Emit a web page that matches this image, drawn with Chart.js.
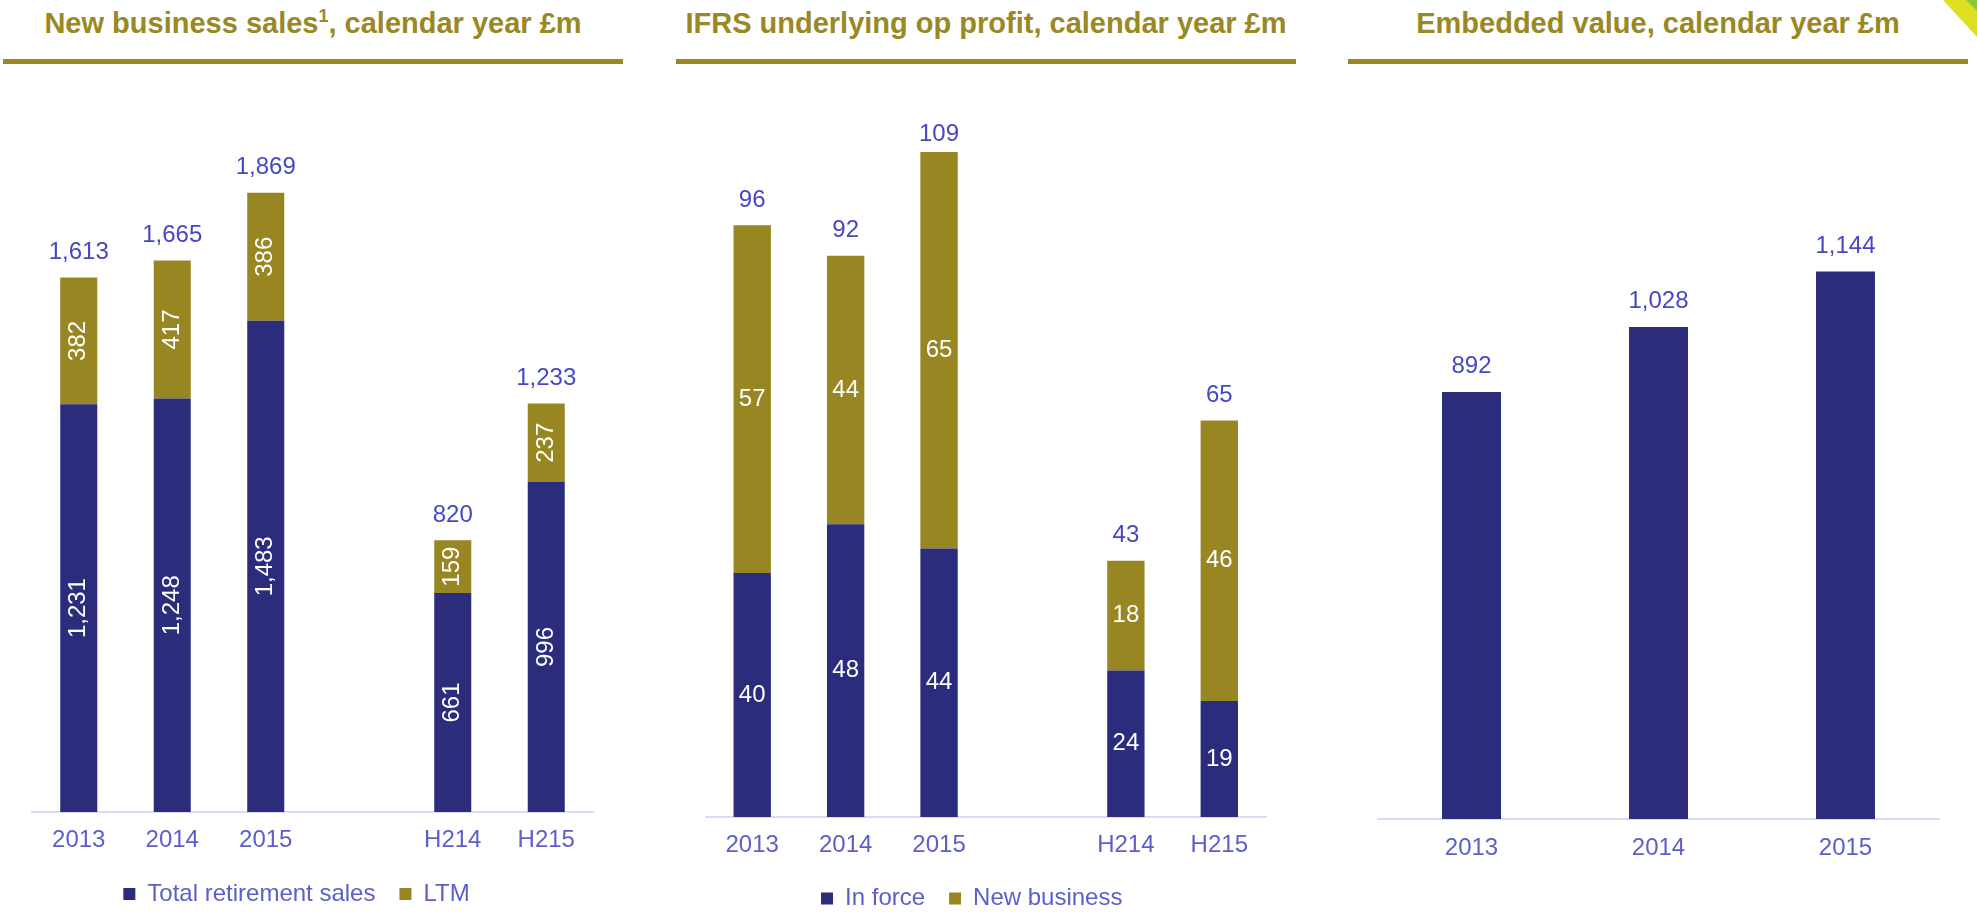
<!DOCTYPE html>
<html>
<head>
<meta charset="utf-8">
<script src="https://cdn.jsdelivr.net/npm/chart.js@4.4.1/dist/chart.umd.min.js"></script>
<style>
html,body{margin:0;padding:0;background:#fff;width:1977px;height:916px;overflow:hidden;font-family:'Liberation Sans',Arial,sans-serif;}
.title{position:absolute;top:5px;height:36px;line-height:36px;font-size:29px;font-weight:bold;color:#998823;text-align:center;white-space:nowrap;}
.title .sup{font-size:18px;position:relative;top:-11px;}
.rule{position:absolute;top:59px;height:5px;background:#998823;}
canvas{position:absolute;top:70px;}
.corner{position:absolute;top:0;left:1943px;width:34px;height:37px;background:#dfdf22;clip-path:polygon(0 0,100% 0,100% 100%);}
.corner2{position:absolute;top:0;left:1966px;width:11px;height:11px;background:#8dc63f;clip-path:polygon(0 0,100% 0,100% 100%);}
</style>
</head>
<body>
<div class="title" style="left:3px;width:620px;">New business sales<span class="sup">1</span>, calendar year £m</div>
<div class="rule" style="left:3px;width:620px;"></div>
<div class="title" style="left:676px;width:620px;">IFRS underlying op profit, calendar year £m</div>
<div class="rule" style="left:676px;width:620px;"></div>
<div class="title" style="left:1348px;width:620px;">Embedded value, calendar year £m</div>
<div class="rule" style="left:1348px;width:620px;"></div>
<div class="corner"></div><div class="corner2"></div>

<canvas id="c1" width="640" height="846" style="left:0px;"></canvas>
<canvas id="c2" width="660" height="846" style="left:650px;"></canvas>
<canvas id="c3" width="657" height="846" style="left:1320px;"></canvas>

<script>
// ---- data ----
const salesCategories = ['2013', '2014', '2015', '', 'H214', 'H215'];
const salesTotalRetirement = [1231, 1248, 1483, null, 661, 996];
const salesLTM = [382, 417, 386, null, 159, 237];
const salesTotals = [1613, 1665, 1869, null, 820, 1233];

const profitCategories = ['2013', '2014', '2015', '', 'H214', 'H215'];
const profitInForce = [40, 48, 44, null, 24, 19];
const profitNewBusiness = [57, 44, 65, null, 18, 46];
const profitTotals = [96, 92, 109, null, 43, 65];

const evCategories = ['2013', '2014', '2015'];
const evValues = [892, 1028, 1144];

// ---- style ----
const NAVY = '#2b2c7c';
const OLIVE = '#978621';
const LABEL_BLUE = '#4547c4';
const TICK_BLUE = '#5b5ecb';
const AXIS_LINE = '#dadaf2';
const FONT = "'Liberation Sans', Arial, sans-serif";

Chart.defaults.font.family = FONT;
Chart.defaults.font.size = 24;
Chart.defaults.animation = false;

const fmt = v => v.toLocaleString('en-US');

const barLabels = {
  id: 'barLabels',
  afterDatasetsDraw(chart, args, opts) {
    const ctx = chart.ctx;
    ctx.save();
    ctx.font = '24px ' + FONT;
    ctx.textAlign = 'center';
    ctx.textBaseline = 'middle';
    if (opts.inside) {
      chart.data.datasets.forEach((ds, di) => {
        const meta = chart.getDatasetMeta(di);
        meta.data.forEach((bar, i) => {
          const v = ds.data[i];
          if (v == null) return;
          const p = bar.getProps(['x', 'y', 'base'], true);
          const cy = (p.y + p.base) / 2;
          ctx.fillStyle = '#ffffff';
          if (opts.rotate) {
            ctx.save();
            ctx.translate(p.x, cy);
            ctx.rotate(-Math.PI / 2);
            ctx.fillText(fmt(v), 0, 0);
            ctx.restore();
          } else {
            ctx.fillText(fmt(v), p.x, cy);
          }
        });
      });
    }
    const lastMeta = chart.getDatasetMeta(chart.data.datasets.length - 1);
    (opts.totals || []).forEach((t, i) => {
      if (t == null) return;
      const p = lastMeta.data[i].getProps(['x', 'y'], true);
      let cy = p.y - opts.gap;
      if (opts.minY != null) cy = Math.max(cy, opts.minY);
      ctx.fillStyle = LABEL_BLUE;
      ctx.fillText(fmt(t), p.x, cy);
    });
    ctx.restore();
  }
};

const legendPlace = {
  id: 'legendPlace',
  afterLayout(chart, args, opts) {
    const lg = chart.legend;
    if (!lg || opts.cy == null) return;
    const p = lg.options.labels.padding;
    const h = lg.height;
    lg.top = opts.cy - p - 12;
    lg.bottom = lg.top + h;
    lg.left += opts.dx;
    lg.right += opts.dx;
  }
};

function xScale(pad) {
  return {
    grid: { display: false, drawTicks: false, tickLength: 0 },
    border: { display: true, color: AXIS_LINE, width: 2 },
    ticks: { color: TICK_BLUE, font: { size: 24 }, padding: pad, autoSkip: false, maxRotation: 0 }
  };
}

function legendOpts(maxH) {
  return {
    display: true,
    position: 'bottom',
    maxHeight: maxH,
    labels: { color: TICK_BLUE, font: { size: 24 }, boxWidth: 12, boxHeight: 12, padding: 24 }
  };
}

new Chart(document.getElementById('c1'), {
  type: 'bar',
  data: {
    labels: salesCategories,
    datasets: [
      { label: 'Total retirement sales', data: salesTotalRetirement, backgroundColor: NAVY, borderWidth: 0 },
      { label: 'LTM', data: salesLTM, backgroundColor: OLIVE, borderWidth: 0 }
    ]
  },
  options: {
    responsive: false,
    devicePixelRatio: 1,
    categoryPercentage: 0.4,
    barPercentage: 0.99,
    layout: { padding: { left: 32, right: 47, top: 79.4, bottom: 0 } },
    scales: {
      x: Object.assign({ stacked: true }, xScale(13.6)),
      y: { stacked: true, display: false, min: 0, max: 2000 }
    },
    plugins: {
      legend: legendOpts(48),
      tooltip: { enabled: false },
      barLabels: { inside: true, rotate: true, totals: salesTotals, gap: 25.3 },
      legendPlace: { cy: 824, dx: -16 }
    }
  },
  plugins: [barLabels, legendPlace]
});

new Chart(document.getElementById('c2'), {
  type: 'bar',
  data: {
    labels: profitCategories,
    datasets: [
      { label: 'In force', data: profitInForce, backgroundColor: NAVY, borderWidth: 0 },
      { label: 'New business', data: profitNewBusiness, backgroundColor: OLIVE, borderWidth: 0 }
    ]
  },
  options: {
    responsive: false,
    devicePixelRatio: 1,
    categoryPercentage: 0.4,
    barPercentage: 1,
    layout: { padding: { left: 55.5, right: 44, top: 15, bottom: 0 } },
    scales: {
      x: Object.assign({ stacked: true }, xScale(13.9)),
      y: { stacked: true, display: false, min: 0, max: 120 }
    },
    plugins: {
      legend: legendOpts(42.4),
      tooltip: { enabled: false },
      barLabels: { inside: true, rotate: false, totals: profitTotals, gap: 25.3, minY: 64 },
      legendPlace: { cy: 828.5, dx: -14 }
    }
  },
  plugins: [barLabels, legendPlace]
});

new Chart(document.getElementById('c3'), {
  type: 'bar',
  data: {
    labels: evCategories,
    datasets: [
      { label: 'Embedded value', data: evValues, backgroundColor: NAVY, borderWidth: 0 }
    ]
  },
  options: {
    responsive: false,
    devicePixelRatio: 1,
    categoryPercentage: 0.3155,
    barPercentage: 1,
    layout: { padding: { left: 58, right: 38, top: 31, bottom: 39 } },
    scales: {
      x: xScale(14.6),
      y: { display: false, min: 0, max: 1500 }
    },
    plugins: {
      legend: { display: false },
      tooltip: { enabled: false },
      barLabels: { inside: false, totals: evValues, gap: 25.3 }
    }
  },
  plugins: [barLabels]
});
</script>
</body>
</html>
